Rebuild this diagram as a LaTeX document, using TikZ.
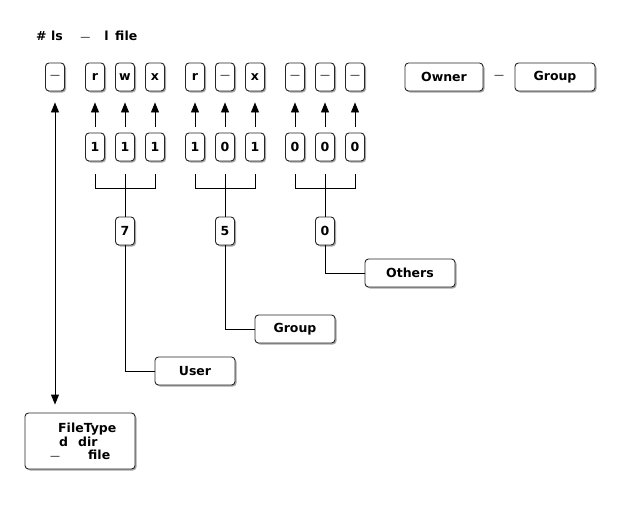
\documentclass[tikz,border=0pt]{standalone}
\usepackage{fontspec}
\setmainfont{DejaVu Sans}
\usetikzlibrary{shadows,arrows.meta}
\newcommand{\dsh}{{\mdseries\fontsize{10}{12}\selectfont —}}
\begin{document}
\begin{tikzpicture}[x=1pt,y=-1pt,
 every node/.style={font=\fontsize{12.5}{14}\selectfont\bfseries},
 cell/.style={draw=black!85, line width=0.9pt, rounded corners=3.5pt, fill=white,
   minimum width=19pt, minimum height=28pt, inner sep=0pt,
   drop shadow={shadow xshift=1.5pt, shadow yshift=-1.5pt, fill=black, opacity=0.35}},
 wide/.style={cell, minimum width=80pt},
 txt/.style={anchor=base west, inner sep=0pt},
 ln/.style={line width=0.9pt},
 arr/.style={ln, -{Triangle[length=10pt,width=8pt]}}]
\useasboundingbox (0,0) rectangle (640,504);

\node[txt] (cmd) at (36,40) {\# ls\hspace{17.5pt}\dsh\hspace{14pt}l\hspace{6.7pt}file};

% top row
\node[cell] (t0) at (55,77) {\dsh};
\foreach \i/\x/\c in {1/95/r,2/125/w,3/155/x,4/195/r,5/225/\dsh,6/255/x,7/295/\dsh,8/325/\dsh,9/355/\dsh}
  \node[cell] (t\i) at (\x,77) {\c};
% bits
\foreach \i/\x/\c in {1/95/1,2/125/1,3/155/1,4/195/1,5/225/0,6/255/1,7/295/0,8/325/0,9/355/0}{
  \node[cell] (n\i) at (\x,147) {\c};
  \draw[arr] ([yshift=6pt]n\i.north) -- ([yshift=-11pt]t\i.south);
}

% digits
\node[cell] (d1) at (125,231) {7};
\node[cell] (d2) at (225,231) {5};
\node[cell] (d3) at (325,231) {0};

\foreach \a/\b/\c/\d in {n1/n2/n3/d1, n4/n5/n6/d2, n7/n8/n9/d3}{
  \draw[ln] ([yshift=-13pt]\a.south) -- ([yshift=-27pt]\a.south) -- ([yshift=-27pt]\c.south) -- ([yshift=-13pt]\c.south);
  \draw[ln] ([yshift=-13pt]\b.south) -- (\d.north);
}

% labels
\node[wide] (user) at (195,371) {User};
\node[wide] (grp) at (295,329) {Group};
\node[wide, minimum width=90pt] (oth) at (410,273) {Others};
\draw[ln] (d1.south) |- (user.west);
\draw[ln] (d2.south) |- (grp.west);
\draw[ln] (d3.south) |- (oth.west);

\node[wide, minimum width=78pt] (own) at (444,77) {Owner};
\node[txt, anchor=center] (og) at (499,77) {\dsh};
\node[wide] (grp2) at (555,77) {Group};

% file type
\node[cell, minimum width=110pt, minimum height=56pt] (ft) at (80,441) {};
\node[txt] (ft1) at (58,432) {FileType};
\node[txt] (ft2) at (59,446) {d};
\node[txt] (ft3) at (78,446) {dir};
\node[txt] (ft4) at (50,459) {\dsh};
\node[txt] (ft5) at (88,459) {file};
\draw[ln, {Triangle[length=10pt,width=8pt]}-{Triangle[length=10pt,width=8pt]}] ([yshift=-11pt]t0.south) -- ([yshift=8pt]ft.north -| t0.south);
\end{tikzpicture}
\end{document}
